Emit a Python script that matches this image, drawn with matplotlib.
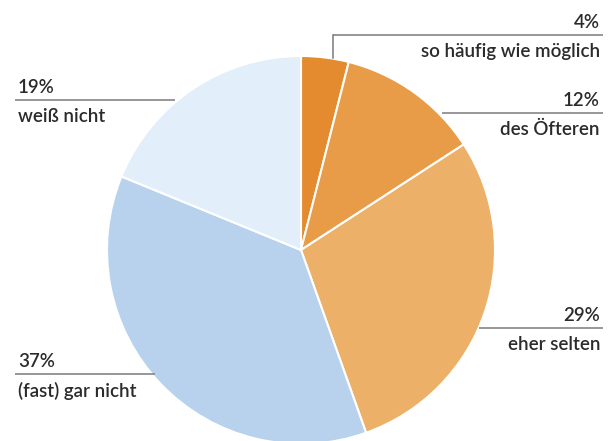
import matplotlib.pyplot as plt

# Daten
labels = ["so häufig wie möglich", "des Öfteren", "eher selten", "(fast) gar nicht", "weiß nicht"]
values = [4, 12, 29, 37, 19]
colors = ["#E38B2E", "#E99C47", "#EDB068", "#B8D2EE", "#E2EEFA"]

W, H = 616, 441
fig = plt.figure(figsize=(W / 100, H / 100), dpi=100)
ax = fig.add_axes([0, 0, 1, 1])

ax.pie(values, colors=colors, startangle=90, counterclock=False,
       center=(301, H - 250), radius=194,
       wedgeprops=dict(edgecolor="white", linewidth=1.5))

# pie() setzt die Grenzen neu, also danach festlegen
ax.set_xlim(0, W)
ax.set_ylim(0, H)
ax.set_aspect("equal")
ax.axis("off")

# Beschriftungen: (Linie y, x von, x bis, Ausrichtung)
lines = [
    (35, 333, 603, "right"),
    (113, 442, 603, "right"),
    (328, 479, 603, "right"),
    (374, 15, 155, "left"),
    (100, 15, 175, "left"),
]

for (ly, x0, x1, ha), lab, v in zip(lines, labels, values):
    y = H - ly
    ax.plot([x0, x1], [y, y], color="#7a7a7a", lw=1.1, solid_capstyle="butt")
    tx = x1 - 3 if ha == "right" else x0 + 3
    ax.text(tx, y + 4, f"{v}%", ha=ha, va="bottom", fontsize=13.5,
            family="Lato", weight="semibold", color="#2b2b2b")
    ax.text(tx, y - 8, lab, ha=ha, va="top", fontsize=13.5,
            family="Lato", weight="semibold", color="#2b2b2b")

# senkrechte Linie zum 4%-Segment
ax.plot([333, 333], [H - 35, H - 58], color="#7a7a7a", lw=1.1)

fig.savefig("out.png", dpi=100)
